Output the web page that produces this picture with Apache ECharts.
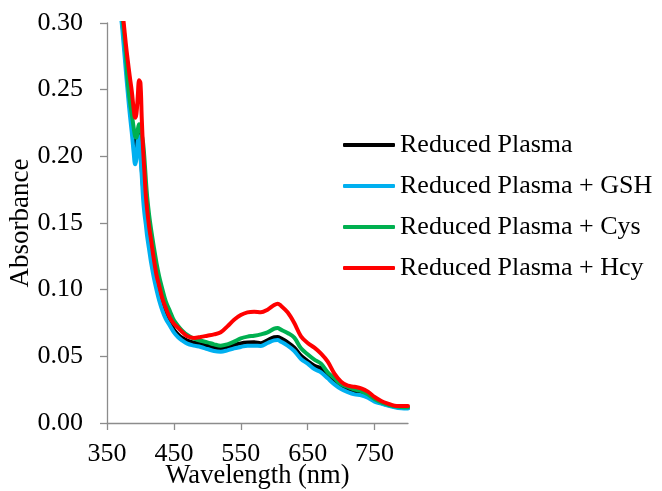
<!DOCTYPE html>
<html>
<head>
<meta charset="utf-8">
<script src="https://cdn.jsdelivr.net/npm/echarts@6/dist/echarts.min.js"></script>
<style>
  html, body { margin: 0; padding: 0; background: #fff; }
  #chart { width: 662px; height: 491px; }
</style>
</head>
<body>
<div id="chart"></div>
<script>
// Absorption spectra (nm vs absorbance)
const wavelength = [370, 372, 375, 378, 381, 384, 387, 390, 392, 394, 396, 398, 400, 402, 404, 406, 408, 410, 413, 416, 420, 424, 428, 433, 438, 444, 450, 456, 462, 470, 480, 490, 500, 510, 520, 530, 540, 550, 560, 570, 580, 590, 600, 605, 610, 620, 630, 640, 650, 660, 670, 680, 690, 700, 710, 720, 730, 740, 750, 760, 770, 780, 790, 800];

const plasma = [0.312, 0.304, 0.289, 0.272, 0.254, 0.238, 0.225, 0.212, 0.206, 0.207, 0.215, 0.218, 0.205, 0.190, 0.176, 0.164, 0.155, 0.146, 0.135, 0.125, 0.113, 0.103, 0.095, 0.087, 0.080, 0.075, 0.070, 0.0665, 0.064, 0.0618, 0.0603, 0.0595, 0.058, 0.0565, 0.0558, 0.057, 0.0585, 0.0597, 0.0603, 0.0605, 0.0598, 0.062, 0.0643, 0.0645, 0.0635, 0.0605, 0.0565, 0.0505, 0.0465, 0.043, 0.041, 0.036, 0.031, 0.0275, 0.0245, 0.0228, 0.022, 0.020, 0.0168, 0.015, 0.0135, 0.0122, 0.0115, 0.0113];

const plasmaGSH = [0.307, 0.300, 0.283, 0.265, 0.248, 0.232, 0.218, 0.202, 0.194, 0.198, 0.212, 0.215, 0.200, 0.185, 0.168, 0.157, 0.149, 0.140, 0.130, 0.120, 0.109, 0.100, 0.092, 0.084, 0.078, 0.073, 0.068, 0.0645, 0.062, 0.0595, 0.058, 0.057, 0.0555, 0.054, 0.0535, 0.0545, 0.056, 0.057, 0.058, 0.058, 0.0578, 0.060, 0.062, 0.0622, 0.061, 0.058, 0.054, 0.048, 0.0445, 0.0405, 0.038, 0.0335, 0.029, 0.0255, 0.0232, 0.0215, 0.0208, 0.019, 0.016, 0.0145, 0.013, 0.0118, 0.011, 0.0108];

const plasmaCys = [0.318, 0.309, 0.295, 0.278, 0.256, 0.242, 0.232, 0.221, 0.215, 0.214, 0.220, 0.224, 0.222, 0.216, 0.210, 0.198, 0.183, 0.170, 0.156, 0.145, 0.132, 0.120, 0.110, 0.100, 0.091, 0.084, 0.077, 0.073, 0.0695, 0.066, 0.0632, 0.0617, 0.0605, 0.059, 0.058, 0.059, 0.061, 0.0635, 0.0648, 0.0655, 0.0665, 0.068, 0.0708, 0.0712, 0.070, 0.0675, 0.064, 0.056, 0.0515, 0.0475, 0.0445, 0.038, 0.0335, 0.029, 0.027, 0.025, 0.024, 0.0215, 0.018, 0.0155, 0.0138, 0.0125, 0.012, 0.0118];

const plasmaHcy = [0.322, 0.313, 0.300, 0.285, 0.272, 0.260, 0.249, 0.235, 0.229, 0.232, 0.245, 0.257, 0.255, 0.228, 0.205, 0.188, 0.171, 0.160, 0.147, 0.137, 0.123, 0.111, 0.103, 0.093, 0.086, 0.079, 0.0745, 0.0715, 0.0685, 0.065, 0.0638, 0.0645, 0.0655, 0.0665, 0.068, 0.0725, 0.0775, 0.081, 0.083, 0.0835, 0.083, 0.085, 0.0885, 0.0895, 0.088, 0.083, 0.075, 0.065, 0.060, 0.0565, 0.052, 0.046, 0.037, 0.031, 0.028, 0.0272, 0.026, 0.0235, 0.0195, 0.0165, 0.0145, 0.013, 0.0128, 0.0127];

const seriesNames = ['Reduced Plasma', 'Reduced Plasma + GSH', 'Reduced Plasma + Cys', 'Reduced Plasma + Hcy'];
const seriesColors = ['#000000', '#00B0F0', '#00B050', '#FF0000'];
const seriesValues = [plasma, plasmaGSH, plasmaCys, plasmaHcy];

const xTicks = [350, 450, 550, 650, 750];

const FONT = '"Liberation Serif", "Times New Roman", serif';
const axisGray = '#8c8c8c';

const chart = echarts.init(document.getElementById('chart'), null, { renderer: 'canvas' });

chart.setOption({
  animation: false,
  backgroundColor: '#ffffff',
  grid: { left: 107, top: 23, right: 254, bottom: 68, containLabel: false, outerBoundsMode: 'none' },
  legend: {
    orient: 'vertical',
    left: 343,
    top: 132,
    padding: 0,
    icon: 'roundRect',
    itemWidth: 52,
    itemHeight: 4,
    itemGap: 15,
    textStyle: { fontFamily: FONT, fontSize: 26, color: '#000', lineHeight: 26 },
    data: seriesNames
  },
  xAxis: {
    type: 'value',
    min: 350,
    max: 800,
    name: 'Wavelength (nm)',
    nameLocation: 'middle',
    nameGap: 40,
    nameMoveOverlap: false,
    nameTextStyle: { fontFamily: FONT, fontSize: 26.5, color: '#000' },
    axisLine: { show: true, onZero: false, lineStyle: { color: axisGray, width: 1.3 } },
    axisTick: { show: true, length: 7, inside: false, customValues: xTicks, lineStyle: { color: axisGray, width: 1.3 } },
    axisLabel: { customValues: xTicks, margin: 18, fontFamily: FONT, fontSize: 26, color: '#000' },
    splitLine: { show: false }
  },
  yAxis: {
    type: 'value',
    min: 0,
    max: 0.3,
    interval: 0.05,
    name: 'Absorbance',
    nameLocation: 'middle',
    nameGap: 73,
    nameMoveOverlap: false,
    nameTextStyle: { fontFamily: FONT, fontSize: 27, color: '#000' },
    axisLine: { show: true, lineStyle: { color: axisGray, width: 1.3 } },
    axisTick: { show: true, length: 7, inside: false, lineStyle: { color: axisGray, width: 1.3 } },
    axisLabel: {
      margin: 24, fontFamily: FONT, fontSize: 26, color: '#000',
      formatter: v => v.toFixed(2)
    },
    splitLine: { show: false }
  },
  series: seriesNames.map((name, i) => ({
    name: name,
    type: 'line',
    data: wavelength.map((w, j) => [w, seriesValues[i][j]]),
    showSymbol: false,
    symbol: 'none',
    smooth: 0.35,
    clip: true,
    color: seriesColors[i],
    itemStyle: { color: seriesColors[i] },
    lineStyle: { color: seriesColors[i], width: 4, cap: 'round', join: 'round' }
  }))
});
</script>
</body>
</html>
